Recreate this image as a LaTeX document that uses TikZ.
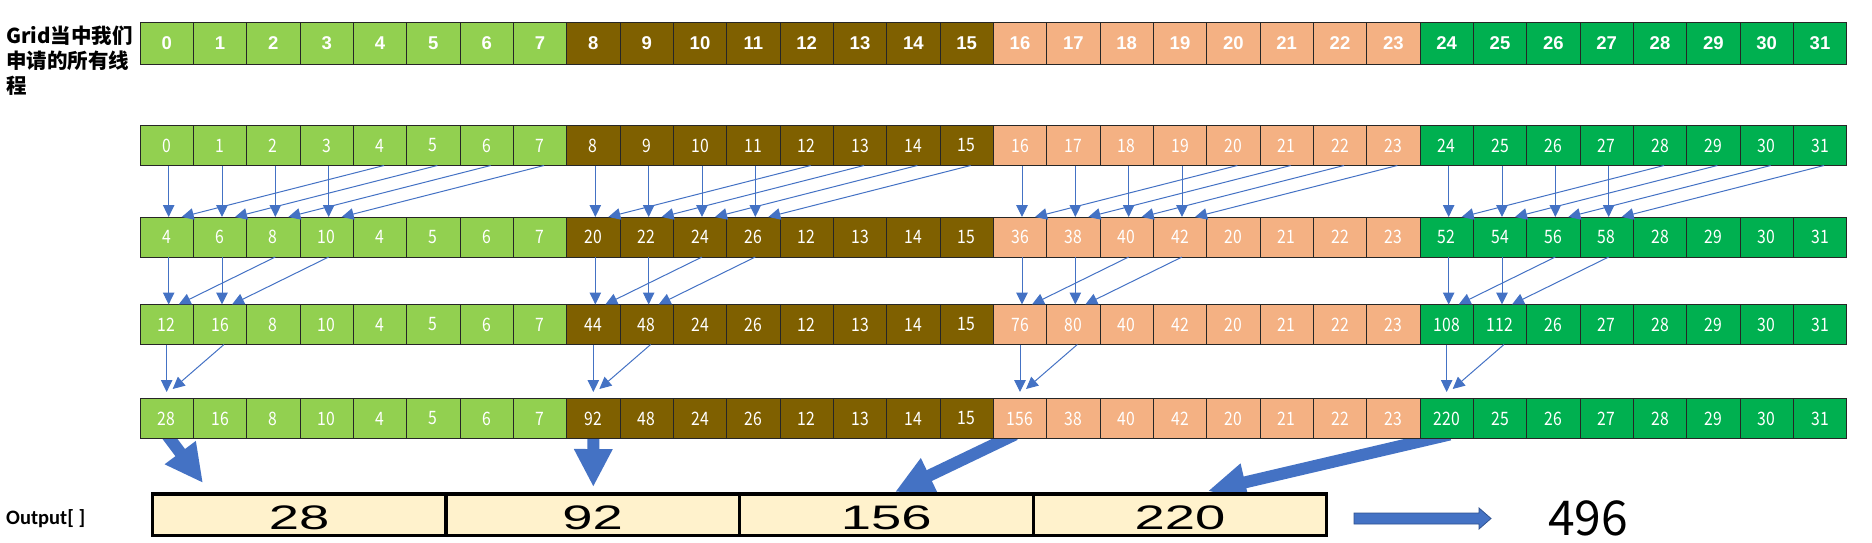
\documentclass[tikz,border=0pt]{standalone}
\usepackage{fontspec}
\usetikzlibrary{arrows.meta,calc}
\newfontfamily\cjkfont{Noto Sans CJK SC}
\newfontfamily\topfont{Liberation Sans}
\newfontfamily\cellfont[FakeStretch=0.85]{Noto Sans CJK SC}
\newfontfamily\outfont[FakeStretch=1.6]{Liberation Sans}
\newfontfamily\labfont{Carlito}
\definecolor{lg}{HTML}{92D050}
\definecolor{br}{HTML}{7F6000}
\definecolor{sa}{HTML}{F4B183}
\definecolor{dg}{HTML}{00B050}
\definecolor{ob}{HTML}{FFF2CC}
\definecolor{ab}{HTML}{4472C4}
\definecolor{abd}{HTML}{2F528F}
\pgfdeclarelayer{background}
\pgfsetlayers{background,main}
\def\setcc#1{\ifcase#1 \def\cc{lg}\or \def\cc{br}\or \def\cc{sa}\or \def\cc{dg}\fi}
\begin{document}
\begin{tikzpicture}[x=1pt,y=-1pt,
  cellbox/.style={draw=black!85, line width=0.9pt, minimum width=53.333pt, minimum height=40pt,
    inner sep=0pt, outer sep=0pt, anchor=north west, text=white},
  topcell/.style={cellbox, minimum height=42pt, font=\topfont\bfseries\fontsize{18.5}{20}\selectfont},
  lowcell/.style={cellbox, font=\cellfont\fontsize{18.5}{18.5}\selectfont},
  outbox/.style={draw=black, line width=3.2pt, fill=ob, minimum width=293.6pt, minimum height=41.7pt,
    inner sep=0pt, outer sep=0pt, anchor=north west, text height=29.5pt, text depth=0pt,
    font=\outfont\fontsize{34}{34}\selectfont},
  thinarr/.style={draw=ab, line width=1pt, -{Triangle[length=12pt,width=11.5pt]}},
  bigarr/.style={draw=ab, line width=12pt, -{Triangle[length=38pt,width=36pt]}}]
\useasboundingbox (0,0) rectangle (1872,543);

% label
\node[anchor=north west, align=left, inner sep=0pt, font=\cjkfont\bfseries\fontsize{20.5}{25}\selectfont]
  (lbl) at (6,26) {Grid当中我们\\申请的所有线\\程};
\node[anchor=west, inner sep=0pt, font=\labfont\bfseries\fontsize{20.5}{24}\selectfont]
  (outl) at (6,519) {Output[ ]};

% row 0
\foreach \v [count=\n from 0] in {0,1,2,3,4,5,6,7,8,9,10,11,12,13,14,15,16,17,18,19,20,21,22,23,24,25,26,27,28,29,30,31} {
  \pgfmathtruncatemacro\g{\n/8}\setcc{\g}
  \node[topcell, fill=\cc] (r0c\n) at (140+\n*53.333,22) {\v};
}
% row 1
\foreach \v [count=\n from 0] in {0,1,2,3,4,5,6,7,8,9,10,11,12,13,14,15,16,17,18,19,20,21,22,23,24,25,26,27,28,29,30,31} {
  \pgfmathtruncatemacro\g{\n/8}\setcc{\g}
  \node[lowcell, fill=\cc] (r1c\n) at (140+\n*53.333,125.5) {\v};
}
% row 2
\foreach \v [count=\n from 0] in {4,6,8,10,4,5,6,7,20,22,24,26,12,13,14,15,36,38,40,42,20,21,22,23,52,54,56,58,28,29,30,31} {
  \pgfmathtruncatemacro\g{\n/8}\setcc{\g}
  \node[lowcell, fill=\cc] (r2c\n) at (140+\n*53.333,217) {\v};
}
% row 3
\foreach \v [count=\n from 0] in {12,16,8,10,4,5,6,7,44,48,24,26,12,13,14,15,76,80,40,42,20,21,22,23,108,112,26,27,28,29,30,31} {
  \pgfmathtruncatemacro\g{\n/8}\setcc{\g}
  \node[lowcell, fill=\cc] (r3c\n) at (140+\n*53.333,304.5) {\v};
}
% row 4
\foreach \v [count=\n from 0] in {28,16,8,10,4,5,6,7,92,48,24,26,12,13,14,15,156,38,40,42,20,21,22,23,220,25,26,27,28,29,30,31} {
  \pgfmathtruncatemacro\g{\n/8}\setcc{\g}
  \node[lowcell, fill=\cc] (r4c\n) at (140+\n*53.333,398.5) {\v};
}

% thin arrows
\foreach \g in {0,1,2,3} {
  \foreach \i in {0,...,3} {
    \pgfmathtruncatemacro\a{8*\g+\i}
    \pgfmathtruncatemacro\b{8*\g+\i+4}
    \draw[thinarr] ([xshift=2pt]r1c\a.south) -- ([xshift=2pt]r2c\a.north);
    \draw[thinarr] ([xshift=4pt]r1c\b.south) -- ([xshift=15pt]r2c\a.north);
  }
  \foreach \i in {0,1} {
    \pgfmathtruncatemacro\a{8*\g+\i}
    \pgfmathtruncatemacro\b{8*\g+\i+2}
    \draw[thinarr] ([xshift=2pt]r2c\a.south) -- ([xshift=2pt]r3c\a.north);
    \draw[thinarr] ([xshift=2pt]r2c\b.south) -- ([xshift=12pt]r3c\a.north);
  }
  \pgfmathtruncatemacro\a{8*\g}
  \pgfmathtruncatemacro\b{8*\g+1}
  \draw[thinarr] ([xshift=0pt]r3c\a.south) -- ([yshift=6.5pt]r4c\a.north);
  \draw[thinarr] ([xshift=4pt]r3c\b.south) -- ([xshift=6pt,yshift=9.5pt]r4c\a.north);
}

% output boxes
\foreach \v [count=\n from 0] in {28,92,156,220} {
  \node[outbox] (out\n) at (152.3+\n*293.6,494) {\v};
}
\node[inner sep=0pt, font=\cjkfont\fontsize{48}{48}\selectfont] (res) at (1588,518) {496};

% thick arrows
\coordinate (t1) at (203,483);
\coordinate (t2) at (593.3,487);
\coordinate (t3) at (895,492);
\coordinate (t4) at (1208,491);
\begin{pgfonlayer}{background}
\draw[bigarr] ([yshift=4pt]r4c0.south) -- (t1);
\draw[bigarr] ([yshift=4pt]r4c8.south) -- (t2);
\draw[bigarr] ([xshift=-5pt,yshift=4pt]r4c16.south) -- (t3);
\draw[bigarr] ([xshift=3pt,yshift=4pt]r4c24.south) -- (t4);
\end{pgfonlayer}

% arrow to result
\coordinate (aS) at (1354,518.5);
\coordinate (aE) at (1491,518.5);
\path[fill=ab, draw=abd, line width=0.8pt] ($(aS)+(0,-5.5)$) -- ($(aE)+(-12,-5.5)$) -- ($(aE)+(-12,-10.5)$)
  -- (aE) -- ($(aE)+(-12,10.5)$) -- ($(aE)+(-12,5.5)$) -- ($(aS)+(0,5.5)$) -- cycle;
\end{tikzpicture}
\end{document}
